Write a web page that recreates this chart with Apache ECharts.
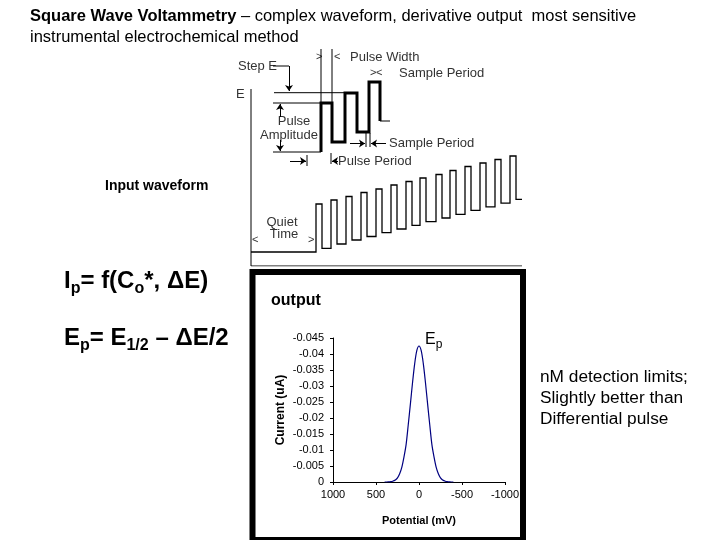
<!DOCTYPE html>
<html><head><meta charset="utf-8">
<script src="https://cdn.jsdelivr.net/npm/echarts@6/dist/echarts.min.js"></script>
<style>html,body{margin:0;padding:0;background:#fff}#c{width:720px;height:540px}</style>
</head><body><div id="c"></div>
<script>
// ---------------- DATA ----------------
// Output voltammogram (potential in mV, current in uA)
const potential = [400,375,350,325,300,275,250,225,200,175,150,125,100,75,50,25,0,-25,-50,-75,-100,-125,-150,-175,-200,-225,-250,-275,-300,-325,-350,-375,-400];
const current = [0,0,-0.00005,-0.0001,-0.0003,-0.0006,-0.0013,-0.0026,-0.0046,-0.0078,-0.0117,-0.0179,-0.0244,-0.0311,-0.0370,-0.0411,-0.0425,-0.0411,-0.0370,-0.0311,-0.0244,-0.0179,-0.0117,-0.0078,-0.0046,-0.0026,-0.0013,-0.0006,-0.0003,-0.0001,-0.00005,0,0];
const potentialTicks = [-1000, 1000, 500];   // min, max, interval
const currentTicks = [-0.045, 0, 0.005];     // min, max, interval

// Input waveform diagram (time units, potential units)
// detail of three square-wave cycles (thick)
const detailT = [70, 70, 81, 81, 94, 94, 106, 106, 118, 118, 129, 129];
const detailE = [114, 163, 163, 124, 124, 173, 173, 134, 134, 184, 184, 145];
const detailLeadT = [22, 70];  const detailLeadE = [114, 114];
const detailTailT = [129, 139]; const detailTailE = [145, 145];
// full waveform (thin)
const quietE = 14;
const pulseUpT   = [65, 80, 95, 110, 125, 140, 155, 169, 185, 199, 214, 229, 244, 259];
const pulseDownT = [71, 86, 101, 116, 131, 146, 161, 175, 191, 205, 220, 235, 250, 265];
const pulseHighE = [62, 66, 69.5, 73.5, 77, 81, 84.5, 88, 91.5, 95.5, 99.5, 103, 106.5, 110];
const pulseLowE  = [17.7, 22, 26, 29.5, 33.3, 37, 40.7, 44.3, 48, 51.7, 55.7, 59.2, 62.8, 66.7];
const waveEndT = 271;
// annotation segments [[t,E],[t,E],...]
const annotLines = [
  [[0,177],[0,0]],            // E axis
  [[0,0],[271,0]],            // time axis
  [[23,173.3],[94,173.3]],    // step E reference
  [[22,163],[70,163]],        // pulse amplitude top reference
  [[70,217],[70,163]],        // pulse width marker
  [[81,217],[81,163]],        // pulse width marker
  [[22,200],[38,200]],        // step E leader
  [[56,111],[56,100]],        // pulse period bar
  [[80,113],[80,102]],        // pulse period bar
  [[115,133],[115,119]],      // sample period bar
  [[119,133],[119,119]]       // sample period bar
];
const annotArrows = [
  [[38,200],[38,175]],        // step E arrow
  [[29,149],[29,162]],        // pulse amplitude up
  [[29,126],[29,115]],        // pulse amplitude down
  [[39,105],[55,105]],        // pulse period right
  [[87,105],[81,105]],        // pulse period left
  [[99,122.5],[114,122.5]],   // sample period right
  [[135,122.5],[120,122.5]]   // sample period left
];

// ---------------- BUILD ----------------
const FONT = "'Liberation Sans', Arial, sans-serif";
const plotData = potential.map((p, i) => [p, current[i]]);
const detailPath = detailT.map((t, i) => [t, detailE[i]]);
const leadPath = detailLeadT.map((t, i) => [t, detailLeadE[i]]);
const tailPath = detailTailT.map((t, i) => [t, detailTailE[i]]);
const wavePath = [[0, quietE]];
pulseUpT.forEach((t, k) => {
  const prev = k === 0 ? quietE : pulseLowE[k - 1];
  wavePath.push([t, prev], [t, pulseHighE[k]], [pulseDownT[k], pulseHighE[k]], [pulseDownT[k], pulseLowE[k]]);
});
wavePath.push([waveEndT, pulseLowE[pulseLowE.length - 1]]);

const dg = { coordinateSystem: 'cartesian2d', xAxisIndex: 1, yAxisIndex: 1, polyline: true, silent: true, symbol: 'none' };

function txt(x, y, text, opt) {
  return { type: 'text', x: x, y: y, silent: true, style: Object.assign({ text: text, font: '13px ' + FONT, fill: '#333', textVerticalAlign: 'middle' }, opt || {}) };
}

const chart = echarts.init(document.getElementById('c'), null, { renderer: 'canvas' });
chart.setOption({
  animation: false,
  backgroundColor: '#fff',
  grid: [
    { left: 333, top: 338, width: 172, height: 144 },
    { left: 251, top: 40, width: 271, height: 226 }
  ],
  xAxis: [
    { gridIndex: 0, type: 'value', inverse: true, min: potentialTicks[0], max: potentialTicks[1], interval: potentialTicks[2],
      axisLine: { onZero: false, lineStyle: { color: '#000', width: 1 } }, axisTick: { length: 3, lineStyle: { color: '#000' } },
      axisLabel: { color: '#000', fontSize: 11, fontFamily: FONT, margin: 7, formatter: v => String(v) }, splitLine: { show: false },
      name: 'Potential (mV)', nameLocation: 'middle', nameGap: 33, nameTextStyle: { color: '#000', fontSize: 11, fontWeight: 'bold', fontFamily: FONT } },
    { gridIndex: 1, type: 'value', min: 0, max: 271, show: false }
  ],
  yAxis: [
    { gridIndex: 0, type: 'value', inverse: true, min: currentTicks[0], max: currentTicks[1], interval: currentTicks[2],
      axisLine: { show: true, onZero: false, lineStyle: { color: '#000', width: 1 } }, axisTick: { show: true, length: 3, lineStyle: { color: '#000' } },
      axisLabel: { color: '#000', fontSize: 11, fontFamily: FONT, margin: 9 }, splitLine: { show: false },
      name: 'Current (uA)', nameLocation: 'middle', nameGap: 46, nameRotate: 90, nameTextStyle: { color: '#000', fontSize: 12, fontWeight: 'bold', fontFamily: FONT } },
    { gridIndex: 1, type: 'value', min: 0, max: 226, show: false }
  ],
  series: [
    { type: 'line', xAxisIndex: 0, yAxisIndex: 0, data: plotData, smooth: 0.3, showSymbol: false, lineStyle: { color: '#000080', width: 1.2 } },
    Object.assign({ type: 'lines', data: [{ coords: wavePath }], lineStyle: { color: '#000', width: 1.3, opacity: 1 } }, dg),
    Object.assign({ type: 'lines', data: [{ coords: detailPath }], lineStyle: { color: '#000', width: 3, opacity: 1, join: 'miter' } }, dg),
    Object.assign({ type: 'lines', data: [{ coords: leadPath }, { coords: tailPath }].concat(annotLines.map(c => ({ coords: c }))), lineStyle: { color: '#000', width: 1, opacity: 1 } }, dg),
    Object.assign({}, dg, { type: 'lines', polyline: false, symbol: ['none', 'arrow'], symbolSize: 6, data: annotArrows.map(c => ({ coords: c })), lineStyle: { color: '#000', width: 1, opacity: 1 } })
  ],
  graphic: [
    // title
    { type: 'text', x: 30, y: 16, silent: true, style: { text: '{b|Square Wave Voltammetry} – complex waveform, derivative output  most sensitive', font: '16.5px ' + FONT, fill: '#000', textVerticalAlign: 'middle',
      rich: { b: { fontWeight: 'bold', fontSize: 16.5, fontFamily: FONT, fill: '#000' } } } },
    { type: 'text', x: 30, y: 37, silent: true, style: { text: 'instrumental electrochemical method', font: '16.5px ' + FONT, fill: '#000', textVerticalAlign: 'middle' } },
    // diagram labels
    txt(236, 94, 'E'),
    txt(238, 66, 'Step E'),
    txt(316, 57, '>', { font: '11px ' + FONT }),
    txt(334, 57, '<', { font: '11px ' + FONT }),
    txt(350, 57, 'Pulse Width'),
    txt(370, 73, '>', { font: '11px ' + FONT }),
    txt(376, 73, '<', { font: '11px ' + FONT }),
    txt(399, 73, 'Sample Period'),
    txt(294, 121, 'Pulse', { textAlign: 'center' }),
    txt(289, 135, 'Amplitude', { textAlign: 'center' }),
    txt(389, 143.5, 'Sample Period'),
    txt(338, 161, 'Pulse Period'),
    txt(282, 222, 'Quiet', { textAlign: 'center' }),
    txt(284, 234, 'Time', { textAlign: 'center' }),
    txt(252, 240, '<', { font: '11px ' + FONT }),
    txt(308, 240, '>', { font: '11px ' + FONT }),
    // Input waveform
    { type: 'text', x: 105, y: 186, silent: true, style: { text: 'Input waveform', font: 'bold 14px ' + FONT, fill: '#000', textVerticalAlign: 'middle' } },
    // formulas
    { type: 'text', x: 64, y: 281, silent: true, style: { text: 'I{s|p}= f(C{s|o}*, ΔE)', font: 'bold 24px ' + FONT, fill: '#000', textVerticalAlign: 'middle',
      rich: { s: { fontSize: 16, fontWeight: 'bold', fontFamily: FONT, fill: '#000', padding: [15, 0, 0, 0] } } } },
    { type: 'text', x: 64, y: 338, silent: true, style: { text: 'E{s|p}= E{s|1/2} – ΔE/2', font: 'bold 24px ' + FONT, fill: '#000', textVerticalAlign: 'middle',
      rich: { s: { fontSize: 16, fontWeight: 'bold', fontFamily: FONT, fill: '#000', padding: [15, 0, 0, 0] } } } },
    // output box
    { type: 'rect', silent: true, shape: { x: 252.5, y: 272, width: 270.5, height: 268 }, style: { fill: 'none', stroke: '#000', lineWidth: 6 } },
    { type: 'text', x: 271, y: 301, silent: true, style: { text: 'output', font: 'bold 16px ' + FONT, fill: '#000', textVerticalAlign: 'middle' } },
    { type: 'text', x: 425, y: 340, silent: true, style: { text: 'E{s|p}', font: '16px ' + FONT, fill: '#000', textVerticalAlign: 'middle',
      rich: { s: { fontSize: 12, fontFamily: FONT, fill: '#000', padding: [10, 0, 0, 0] } } } },
    // right note
    { type: 'text', x: 540, y: 378, silent: true, scaleX: 1.08, style: { text: 'nM detection limits;', font: '16px ' + FONT, fill: '#000', textVerticalAlign: 'middle' } },
    { type: 'text', x: 540, y: 399, silent: true, scaleX: 1.08, style: { text: 'Slightly better than', font: '16px ' + FONT, fill: '#000', textVerticalAlign: 'middle' } },
    { type: 'text', x: 540, y: 420, silent: true, scaleX: 1.08, style: { text: 'Differential pulse', font: '16px ' + FONT, fill: '#000', textVerticalAlign: 'middle' } }
  ]
});
</script></body></html>
